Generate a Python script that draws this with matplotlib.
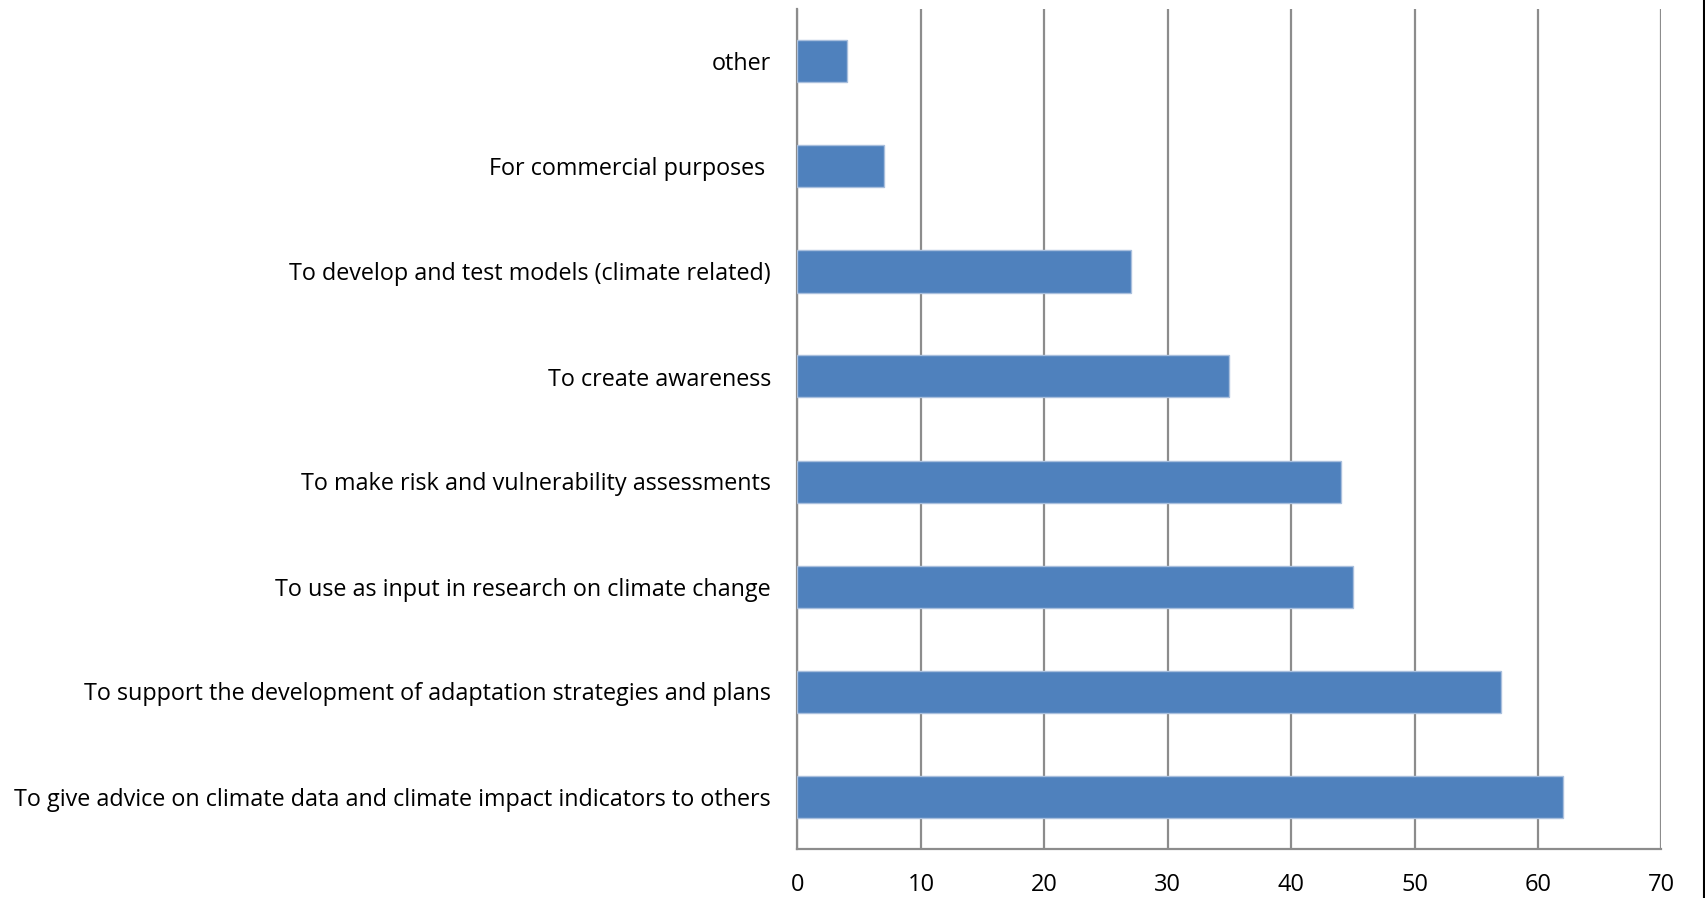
import matplotlib
matplotlib.use("Agg")
import matplotlib.pyplot as plt
from matplotlib.lines import Line2D

# survey responses: what the climate data is used for
purposes = [
    "To give advice on climate data and climate impact indicators to others",
    "To support the development of adaptation strategies and plans",
    "To use as input in research on climate change",
    "To make risk and vulnerability assessments",
    "To create awareness",
    "To develop and test models (climate related)",
    "For commercial purposes ",
    "other",
]
counts = [62, 57, 45, 44, 35, 27, 7, 4]
x_ticks = [0, 10, 20, 30, 40, 50, 60, 70]

BAR_COLOR = "#4F81BD"
GRID_COLOR = "#8C8C8C"

plt.rcParams["font.family"] = ["Open Sans", "DejaVu Sans"]

fig = plt.figure(figsize=(17.06, 8.98), dpi=100)
ax = fig.add_axes([797.5 / 1706, 49 / 898, 864 / 1706, 840 / 898])

ypos = list(range(len(purposes)))
ax.barh(ypos, counts, height=0.4, color=BAR_COLOR, edgecolor="#A9BFDD",
        linewidth=1.0, zorder=3)

ax.set_xlim(0, 70)
ax.set_ylim(-0.5, len(purposes) - 0.5)
ax.set_xticks(x_ticks)
ax.set_xticklabels([str(t) for t in x_ticks])
ax.set_yticks(ypos)
ax.set_yticklabels(purposes)

ax.xaxis.grid(True, color=GRID_COLOR, linewidth=1.6, zorder=0)
ax.yaxis.grid(False)
for side in ("top", "right"):
    ax.spines[side].set_visible(False)
for side in ("left", "bottom"):
    ax.spines[side].set_color(GRID_COLOR)
    ax.spines[side].set_linewidth(1.6)

ax.tick_params(axis="x", length=0, pad=17, labelsize=17, colors="black")
ax.tick_params(axis="y", length=0, pad=19, labelsize=16.8, colors="black")

# thin frame edge on the right of the image
fig.add_artist(Line2D([1704.5 / 1706, 1704.5 / 1706], [0, 1],
                      transform=fig.transFigure, color="black", linewidth=1.5))

fig.savefig("out.png", dpi=100, facecolor="white")
